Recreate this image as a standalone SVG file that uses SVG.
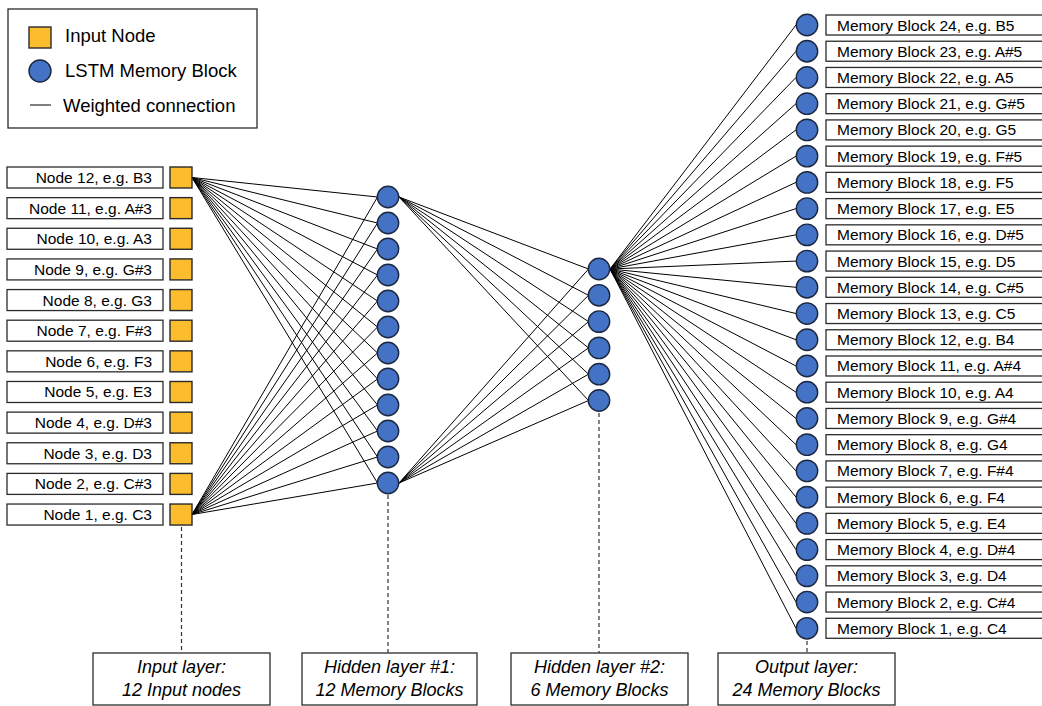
<svg xmlns="http://www.w3.org/2000/svg" width="1042" height="706" viewBox="0 0 1042 706">
  <style>
    text { font-family: "Liberation Sans", Arial, sans-serif; fill: #000; }
    .lbl { font-size: 15.5px; }
    .in-lbl { text-anchor: end; }
    .leg { font-size: 18.5px; }
    .layer { font-size: 18px; font-style: italic; text-anchor: middle; }
    .box { fill: #fff; stroke: #2b2b2b; stroke-width: 1.3; }
    .sq { fill: #FBBD2E; stroke: #2a2a2a; stroke-width: 1.4; }
    .lstm { fill: #4472C4; stroke: #1c2740; stroke-width: 1.4; }
    .wire { stroke: #000; stroke-width: 1; fill: none; }
    .dash { stroke: #333; stroke-width: 1.2; stroke-dasharray: 4 3; fill: none; }
  </style>
  <rect width="1042" height="706" fill="#fff"/>

  <!-- legend -->
  <g id="legend">
    <rect x="8" y="9" width="249" height="119" class="box"/>
    <rect x="29" y="27" width="22" height="21" class="sq"/>
    <text x="65" y="42" class="leg">Input Node</text>
    <circle cx="40" cy="71" r="11" class="lstm"/>
    <text x="65" y="77" class="leg">LSTM Memory Block</text>
    <line x1="30" y1="105" x2="51" y2="105" class="wire"/>
    <text x="63" y="112" class="leg">Weighted connection</text>
  </g>

  <!-- weighted connections -->
  <g id="connectors" class="wire">
    <!-- input node 12 to hidden layer 1 -->
    <line x1="192" y1="177.5" x2="377.5" y2="197"/>
    <line x1="192" y1="177.5" x2="377.5" y2="223"/>
    <line x1="192" y1="177.5" x2="377.5" y2="249"/>
    <line x1="192" y1="177.5" x2="377.5" y2="275"/>
    <line x1="192" y1="177.5" x2="377.5" y2="301"/>
    <line x1="192" y1="177.5" x2="377.5" y2="327"/>
    <line x1="192" y1="177.5" x2="377.5" y2="353"/>
    <line x1="192" y1="177.5" x2="377.5" y2="379"/>
    <line x1="192" y1="177.5" x2="377.5" y2="405"/>
    <line x1="192" y1="177.5" x2="377.5" y2="431"/>
    <line x1="192" y1="177.5" x2="377.5" y2="457"/>
    <line x1="192" y1="177.5" x2="377.5" y2="483"/>
    <!-- input node 1 to hidden layer 1 -->
    <line x1="192" y1="514.5" x2="377.5" y2="197"/>
    <line x1="192" y1="514.5" x2="377.5" y2="223"/>
    <line x1="192" y1="514.5" x2="377.5" y2="249"/>
    <line x1="192" y1="514.5" x2="377.5" y2="275"/>
    <line x1="192" y1="514.5" x2="377.5" y2="301"/>
    <line x1="192" y1="514.5" x2="377.5" y2="327"/>
    <line x1="192" y1="514.5" x2="377.5" y2="353"/>
    <line x1="192" y1="514.5" x2="377.5" y2="379"/>
    <line x1="192" y1="514.5" x2="377.5" y2="405"/>
    <line x1="192" y1="514.5" x2="377.5" y2="431"/>
    <line x1="192" y1="514.5" x2="377.5" y2="457"/>
    <line x1="192" y1="514.5" x2="377.5" y2="483"/>
    <!-- hidden layer 1 to hidden layer 2 -->
    <line x1="399" y1="197" x2="588.5" y2="269"/>
    <line x1="399" y1="197" x2="588.5" y2="295.3"/>
    <line x1="399" y1="197" x2="588.5" y2="321.6"/>
    <line x1="399" y1="197" x2="588.5" y2="347.9"/>
    <line x1="399" y1="197" x2="588.5" y2="374.2"/>
    <line x1="399" y1="197" x2="588.5" y2="400.5"/>
    <line x1="399" y1="483" x2="588.5" y2="269"/>
    <line x1="399" y1="483" x2="588.5" y2="295.3"/>
    <line x1="399" y1="483" x2="588.5" y2="321.6"/>
    <line x1="399" y1="483" x2="588.5" y2="347.9"/>
    <line x1="399" y1="483" x2="588.5" y2="374.2"/>
    <line x1="399" y1="483" x2="588.5" y2="400.5"/>
    <!-- hidden layer 2 to output layer -->
    <line x1="610" y1="269" x2="796" y2="25"/>
    <line x1="610" y1="269" x2="796" y2="51.23"/>
    <line x1="610" y1="269" x2="796" y2="77.46"/>
    <line x1="610" y1="269" x2="796" y2="103.69"/>
    <line x1="610" y1="269" x2="796" y2="129.92"/>
    <line x1="610" y1="269" x2="796" y2="156.15"/>
    <line x1="610" y1="269" x2="796" y2="182.38"/>
    <line x1="610" y1="269" x2="796" y2="208.61"/>
    <line x1="610" y1="269" x2="796" y2="234.84"/>
    <line x1="610" y1="269" x2="796" y2="261.07"/>
    <line x1="610" y1="269" x2="796" y2="287.3"/>
    <line x1="610" y1="269" x2="796" y2="313.53"/>
    <line x1="610" y1="269" x2="796" y2="339.76"/>
    <line x1="610" y1="269" x2="796" y2="365.99"/>
    <line x1="610" y1="269" x2="796" y2="392.22"/>
    <line x1="610" y1="269" x2="796" y2="418.45"/>
    <line x1="610" y1="269" x2="796" y2="444.68"/>
    <line x1="610" y1="269" x2="796" y2="470.91"/>
    <line x1="610" y1="269" x2="796" y2="497.14"/>
    <line x1="610" y1="269" x2="796" y2="523.37"/>
    <line x1="610" y1="269" x2="796" y2="549.6"/>
    <line x1="610" y1="269" x2="796" y2="575.83"/>
    <line x1="610" y1="269" x2="796" y2="602.06"/>
    <line x1="610" y1="269" x2="796" y2="628.29"/>
  </g>

  <!-- dashed leaders to layer captions -->
  <g id="leaders" class="dash">
    <line x1="181.5" y1="527" x2="181.5" y2="653"/>
    <line x1="388" y1="495" x2="388" y2="653"/>
    <line x1="599" y1="413" x2="599" y2="653"/>
    <line x1="807" y1="641" x2="807" y2="653"/>
  </g>

  <!-- input layer -->
  <g id="input-layer">
    <g id="in12"><rect x="7" y="167" width="156" height="21" class="box"/><rect x="170" y="167" width="22" height="21" class="sq"/><text x="152" y="183" class="lbl in-lbl">Node 12, e.g. B3</text></g>
    <g id="in11"><rect x="7" y="197.64" width="156" height="21" class="box"/><rect x="170" y="197.64" width="22" height="21" class="sq"/><text x="152" y="213.64" class="lbl in-lbl">Node 11, e.g. A#3</text></g>
    <g id="in10"><rect x="7" y="228.28" width="156" height="21" class="box"/><rect x="170" y="228.28" width="22" height="21" class="sq"/><text x="152" y="244.28" class="lbl in-lbl">Node 10, e.g. A3</text></g>
    <g id="in9"><rect x="7" y="258.92" width="156" height="21" class="box"/><rect x="170" y="258.92" width="22" height="21" class="sq"/><text x="152" y="274.92" class="lbl in-lbl">Node 9, e.g. G#3</text></g>
    <g id="in8"><rect x="7" y="289.56" width="156" height="21" class="box"/><rect x="170" y="289.56" width="22" height="21" class="sq"/><text x="152" y="305.56" class="lbl in-lbl">Node 8, e.g. G3</text></g>
    <g id="in7"><rect x="7" y="320.2" width="156" height="21" class="box"/><rect x="170" y="320.2" width="22" height="21" class="sq"/><text x="152" y="336.2" class="lbl in-lbl">Node 7, e.g. F#3</text></g>
    <g id="in6"><rect x="7" y="350.84" width="156" height="21" class="box"/><rect x="170" y="350.84" width="22" height="21" class="sq"/><text x="152" y="366.84" class="lbl in-lbl">Node 6, e.g. F3</text></g>
    <g id="in5"><rect x="7" y="381.48" width="156" height="21" class="box"/><rect x="170" y="381.48" width="22" height="21" class="sq"/><text x="152" y="397.48" class="lbl in-lbl">Node 5, e.g. E3</text></g>
    <g id="in4"><rect x="7" y="412.12" width="156" height="21" class="box"/><rect x="170" y="412.12" width="22" height="21" class="sq"/><text x="152" y="428.12" class="lbl in-lbl">Node 4, e.g. D#3</text></g>
    <g id="in3"><rect x="7" y="442.76" width="156" height="21" class="box"/><rect x="170" y="442.76" width="22" height="21" class="sq"/><text x="152" y="458.76" class="lbl in-lbl">Node 3, e.g. D3</text></g>
    <g id="in2"><rect x="7" y="473.4" width="156" height="21" class="box"/><rect x="170" y="473.4" width="22" height="21" class="sq"/><text x="152" y="489.4" class="lbl in-lbl">Node 2, e.g. C#3</text></g>
    <g id="in1"><rect x="7" y="504.04" width="156" height="21" class="box"/><rect x="170" y="504.04" width="22" height="21" class="sq"/><text x="152" y="520.04" class="lbl in-lbl">Node 1, e.g. C3</text></g>
  </g>

  <!-- hidden layer 1 -->
  <g id="hidden-1">
    <circle id="h1-12" cx="388" cy="197" r="10.7" class="lstm"/>
    <circle id="h1-11" cx="388" cy="223" r="10.7" class="lstm"/>
    <circle id="h1-10" cx="388" cy="249" r="10.7" class="lstm"/>
    <circle id="h1-9" cx="388" cy="275" r="10.7" class="lstm"/>
    <circle id="h1-8" cx="388" cy="301" r="10.7" class="lstm"/>
    <circle id="h1-7" cx="388" cy="327" r="10.7" class="lstm"/>
    <circle id="h1-6" cx="388" cy="353" r="10.7" class="lstm"/>
    <circle id="h1-5" cx="388" cy="379" r="10.7" class="lstm"/>
    <circle id="h1-4" cx="388" cy="405" r="10.7" class="lstm"/>
    <circle id="h1-3" cx="388" cy="431" r="10.7" class="lstm"/>
    <circle id="h1-2" cx="388" cy="457" r="10.7" class="lstm"/>
    <circle id="h1-1" cx="388" cy="483" r="10.7" class="lstm"/>
  </g>

  <!-- hidden layer 2 -->
  <g id="hidden-2">
    <circle id="h2-6" cx="599" cy="269" r="10.7" class="lstm"/>
    <circle id="h2-5" cx="599" cy="295.3" r="10.7" class="lstm"/>
    <circle id="h2-4" cx="599" cy="321.6" r="10.7" class="lstm"/>
    <circle id="h2-3" cx="599" cy="347.9" r="10.7" class="lstm"/>
    <circle id="h2-2" cx="599" cy="374.2" r="10.7" class="lstm"/>
    <circle id="h2-1" cx="599" cy="400.5" r="10.7" class="lstm"/>
  </g>

  <!-- output layer -->
  <g id="output-layer">
    <g id="out24"><circle cx="807" cy="25" r="10.7" class="lstm"/><rect x="826" y="15" width="230" height="20" class="box"/><text x="837" y="30.5" class="lbl">Memory Block 24, e.g. B5</text></g>
    <g id="out23"><circle cx="807" cy="51.23" r="10.7" class="lstm"/><rect x="826" y="41.23" width="230" height="20" class="box"/><text x="837" y="56.73" class="lbl">Memory Block 23, e.g. A#5</text></g>
    <g id="out22"><circle cx="807" cy="77.46" r="10.7" class="lstm"/><rect x="826" y="67.46" width="230" height="20" class="box"/><text x="837" y="82.96" class="lbl">Memory Block 22, e.g. A5</text></g>
    <g id="out21"><circle cx="807" cy="103.69" r="10.7" class="lstm"/><rect x="826" y="93.69" width="230" height="20" class="box"/><text x="837" y="109.19" class="lbl">Memory Block 21, e.g. G#5</text></g>
    <g id="out20"><circle cx="807" cy="129.92" r="10.7" class="lstm"/><rect x="826" y="119.92" width="230" height="20" class="box"/><text x="837" y="135.42" class="lbl">Memory Block 20, e.g. G5</text></g>
    <g id="out19"><circle cx="807" cy="156.15" r="10.7" class="lstm"/><rect x="826" y="146.15" width="230" height="20" class="box"/><text x="837" y="161.65" class="lbl">Memory Block 19, e.g. F#5</text></g>
    <g id="out18"><circle cx="807" cy="182.38" r="10.7" class="lstm"/><rect x="826" y="172.38" width="230" height="20" class="box"/><text x="837" y="187.88" class="lbl">Memory Block 18, e.g. F5</text></g>
    <g id="out17"><circle cx="807" cy="208.61" r="10.7" class="lstm"/><rect x="826" y="198.61" width="230" height="20" class="box"/><text x="837" y="214.11" class="lbl">Memory Block 17, e.g. E5</text></g>
    <g id="out16"><circle cx="807" cy="234.84" r="10.7" class="lstm"/><rect x="826" y="224.84" width="230" height="20" class="box"/><text x="837" y="240.34" class="lbl">Memory Block 16, e.g. D#5</text></g>
    <g id="out15"><circle cx="807" cy="261.07" r="10.7" class="lstm"/><rect x="826" y="251.07" width="230" height="20" class="box"/><text x="837" y="266.57" class="lbl">Memory Block 15, e.g. D5</text></g>
    <g id="out14"><circle cx="807" cy="287.3" r="10.7" class="lstm"/><rect x="826" y="277.3" width="230" height="20" class="box"/><text x="837" y="292.8" class="lbl">Memory Block 14, e.g. C#5</text></g>
    <g id="out13"><circle cx="807" cy="313.53" r="10.7" class="lstm"/><rect x="826" y="303.53" width="230" height="20" class="box"/><text x="837" y="319.03" class="lbl">Memory Block 13, e.g. C5</text></g>
    <g id="out12"><circle cx="807" cy="339.76" r="10.7" class="lstm"/><rect x="826" y="329.76" width="230" height="20" class="box"/><text x="837" y="345.26" class="lbl">Memory Block 12, e.g. B4</text></g>
    <g id="out11"><circle cx="807" cy="365.99" r="10.7" class="lstm"/><rect x="826" y="355.99" width="230" height="20" class="box"/><text x="837" y="371.49" class="lbl">Memory Block 11, e.g. A#4</text></g>
    <g id="out10"><circle cx="807" cy="392.22" r="10.7" class="lstm"/><rect x="826" y="382.22" width="230" height="20" class="box"/><text x="837" y="397.72" class="lbl">Memory Block 10, e.g. A4</text></g>
    <g id="out9"><circle cx="807" cy="418.45" r="10.7" class="lstm"/><rect x="826" y="408.45" width="230" height="20" class="box"/><text x="837" y="423.95" class="lbl">Memory Block 9, e.g. G#4</text></g>
    <g id="out8"><circle cx="807" cy="444.68" r="10.7" class="lstm"/><rect x="826" y="434.68" width="230" height="20" class="box"/><text x="837" y="450.18" class="lbl">Memory Block 8, e.g. G4</text></g>
    <g id="out7"><circle cx="807" cy="470.91" r="10.7" class="lstm"/><rect x="826" y="460.91" width="230" height="20" class="box"/><text x="837" y="476.41" class="lbl">Memory Block 7, e.g. F#4</text></g>
    <g id="out6"><circle cx="807" cy="497.14" r="10.7" class="lstm"/><rect x="826" y="487.14" width="230" height="20" class="box"/><text x="837" y="502.64" class="lbl">Memory Block 6, e.g. F4</text></g>
    <g id="out5"><circle cx="807" cy="523.37" r="10.7" class="lstm"/><rect x="826" y="513.37" width="230" height="20" class="box"/><text x="837" y="528.87" class="lbl">Memory Block 5, e.g. E4</text></g>
    <g id="out4"><circle cx="807" cy="549.6" r="10.7" class="lstm"/><rect x="826" y="539.6" width="230" height="20" class="box"/><text x="837" y="555.1" class="lbl">Memory Block 4, e.g. D#4</text></g>
    <g id="out3"><circle cx="807" cy="575.83" r="10.7" class="lstm"/><rect x="826" y="565.83" width="230" height="20" class="box"/><text x="837" y="581.33" class="lbl">Memory Block 3, e.g. D4</text></g>
    <g id="out2"><circle cx="807" cy="602.06" r="10.7" class="lstm"/><rect x="826" y="592.06" width="230" height="20" class="box"/><text x="837" y="607.56" class="lbl">Memory Block 2, e.g. C#4</text></g>
    <g id="out1"><circle cx="807" cy="628.29" r="10.7" class="lstm"/><rect x="826" y="618.29" width="230" height="20" class="box"/><text x="837" y="633.79" class="lbl">Memory Block 1, e.g. C4</text></g>
  </g>

  <!-- layer captions -->
  <g id="caption-input">
    <rect x="93" y="653" width="177" height="52" class="box"/>
    <text x="181.5" y="673" class="layer">Input layer:</text>
    <text x="181.5" y="696" class="layer">12 Input nodes</text>
  </g>
  <g id="caption-hidden-1">
    <rect x="302" y="653" width="175" height="52" class="box"/>
    <text x="389.5" y="673" class="layer">Hidden layer #1:</text>
    <text x="389.5" y="696" class="layer">12 Memory Blocks</text>
  </g>
  <g id="caption-hidden-2">
    <rect x="511" y="653" width="177" height="52" class="box"/>
    <text x="599.5" y="673" class="layer">Hidden layer #2:</text>
    <text x="599.5" y="696" class="layer">6 Memory Blocks</text>
  </g>
  <g id="caption-output">
    <rect x="718" y="653" width="177" height="52" class="box"/>
    <text x="806.5" y="673" class="layer">Output layer:</text>
    <text x="806.5" y="696" class="layer">24 Memory Blocks</text>
  </g>
</svg>
